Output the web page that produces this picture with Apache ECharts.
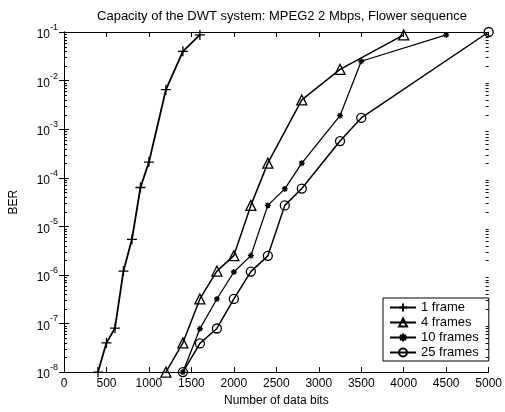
<!DOCTYPE html>
<html>
<head>
<meta charset="utf-8">
<script src="https://cdn.jsdelivr.net/npm/echarts@6/dist/echarts.min.js"></script>
<style>html,body{margin:0;padding:0;background:#fff}#c{width:505px;height:412px}</style>
</head>
<body>
<div id="c"></div>
<script>
// ---- data ----
var titleText = 'Capacity of the DWT system: MPEG2 2 Mbps, Flower sequence';
var seriesNames = ['1 frame', '4 frames', '10 frames', '25 frames'];

var x1 = [400, 500, 600, 700, 800, 900, 1000, 1200, 1400, 1600];
var y1 = [1e-8, 4e-8, 8e-8, 1.2e-6, 5.4e-6, 6.3e-5, 2.1e-4, 6.5e-3, 4e-2, 8.7e-2];

var x4 = [1200, 1400, 1600, 1800, 2000, 2200, 2400, 2800, 3250, 4000];
var y4 = [1e-8, 4e-8, 3.2e-7, 1.2e-6, 2.5e-6, 2.7e-5, 2e-4, 4e-3, 1.7e-2, 8.7e-2];

var x10 = [1400, 1600, 1800, 2000, 2200, 2400, 2600, 2800, 3250, 3500, 4500];
var y10 = [1e-8, 7.8e-8, 3.2e-7, 1.15e-6, 2.5e-6, 2.7e-5, 5.9e-5, 2e-4, 1.9e-3, 2.5e-2, 8.7e-2];

var x25 = [1400, 1600, 1800, 2000, 2200, 2400, 2600, 2800, 3250, 3500, 5000];
var y25 = [1e-8, 3.9e-8, 7.9e-8, 3.2e-7, 1.17e-6, 2.47e-6, 2.7e-5, 6e-5, 5.7e-4, 1.7e-3, 1e-1];

var xMin = 0, xMax = 5000, xStep = 500;
var yMinExp = -8, yMaxExp = -1;

// ---- build ----
function pairs(xs, ys) { return xs.map(function (x, i) { return [x, ys[i]]; }); }

var minorVals = [];
for (var e = yMinExp; e < yMaxExp; e++) {
  for (var m = 2; m <= 9; m++) minorVals.push(m * Math.pow(10, e));
}

var FONT = 'Liberation Sans, Arial, sans-serif';
var plusSym = 'path://M0,5L10,5M5,0L5,10';
var starSym = 'path://M5,0L5,10M0,5L10,5M1.5,1.5L8.5,8.5M8.5,1.5L1.5,8.5';

function lineSeries(name, data, symbol, size, lw) {
  return {
    type: 'line', name: name, data: data,
    symbol: symbol, symbolSize: size, showAllSymbol: true,
    lineStyle: { color: '#000', width: lw },
    itemStyle: { color: 'rgba(0,0,0,0)', borderColor: '#000', borderWidth: 1.3 },
    emphasis: { disabled: true }, silent: true, z: 3
  };
}

var chart = echarts.init(document.getElementById('c'), null, { renderer: 'canvas' });
chart.setOption({
  animation: false,
  backgroundColor: '#fff',
  title: {
    text: titleText, left: 277, top: 5, textAlign: 'center',
    textStyle: { fontFamily: FONT, fontSize: 13, fontWeight: 'normal', color: '#000' }
  },
  grid: { left: 61, top: 32, right: 9, bottom: 39 },
  legend: {
    data: seriesNames, orient: 'vertical', left: 383, top: 298,
    backgroundColor: '#fff', borderColor: '#000', borderWidth: 1,
    padding: [3, 10, 2, 6], itemWidth: 26, itemHeight: 10, itemGap: 2,
    textStyle: { fontFamily: FONT, fontSize: 13, color: '#000' },
    selectedMode: false
  },
  xAxis: [{
    type: 'value', min: xMin, max: xMax, interval: xStep,
    name: 'Number of data bits', nameLocation: 'middle', nameGap: 19,
    nameTextStyle: { fontFamily: FONT, fontSize: 12, color: '#000' },
    axisLine: { show: true, lineStyle: { color: '#000', width: 1 } },
    axisTick: { show: true, inside: true, length: 5, lineStyle: { color: '#000' } },
    axisLabel: { fontFamily: FONT, fontSize: 12, color: '#000', margin: 6,
      formatter: function (v) { return String(v); } },
    splitLine: { show: false }
  }, {
    type: 'value', min: xMin, max: xMax, interval: xStep, position: 'top',
    axisLine: { show: true, lineStyle: { color: '#000', width: 1 } },
    axisTick: { show: true, inside: true, length: 5, lineStyle: { color: '#000' } },
    axisLabel: { show: false }, splitLine: { show: false }
  }],
  yAxis: [{
    type: 'log', logBase: 10, min: Math.pow(10, yMinExp), max: Math.pow(10, yMaxExp), interval: 1,
    name: 'BER', nameLocation: 'middle', nameGap: 44, nameRotate: 90,
    nameTextStyle: { fontFamily: FONT, fontSize: 12, color: '#000' },
    axisLine: { show: true, lineStyle: { color: '#000', width: 1 } },
    axisTick: { show: true, inside: true, length: 5, lineStyle: { color: '#000' } },
    axisLabel: {
      margin: 6, color: '#000',
      formatter: function (v) {
        var ex = Math.round(Math.log10(v));
        return '{b|10}{s|' + ex + '}';
      },
      rich: {
        b: { fontFamily: FONT, fontSize: 12, color: '#000', verticalAlign: 'bottom', lineHeight: 18 },
        s: { fontFamily: FONT, fontSize: 9, color: '#000', verticalAlign: 'top', lineHeight: 18 }
      }
    },
    splitLine: { show: false }
  }, {
    type: 'log', logBase: 10, min: Math.pow(10, yMinExp), max: Math.pow(10, yMaxExp), interval: 1,
    position: 'right',
    axisLine: { show: true, lineStyle: { color: '#000', width: 1 } },
    axisTick: { show: true, inside: true, length: 5, lineStyle: { color: '#000' } },
    axisLabel: { show: false }, splitLine: { show: false }
  }],
  series: [
    lineSeries(seriesNames[0], pairs(x1, y1), plusSym, 10, 1.8),
    lineSeries(seriesNames[1], pairs(x4, y4), 'triangle', 10, 1.5),
    lineSeries(seriesNames[2], pairs(x10, y10), starSym, 6, 1.3),
    lineSeries(seriesNames[3], pairs(x25, y25), 'circle', 9, 1.5)
  ]
});

// minor log ticks (MATLAB style) placed through the chart's own y scale
var graphics = [];
minorVals.forEach(function (v) {
  var pl = chart.convertToPixel({ xAxisIndex: 0, yAxisIndex: 0 }, [xMin, v]);
  var pr = chart.convertToPixel({ xAxisIndex: 0, yAxisIndex: 0 }, [xMax, v]);
  var yy = Math.round(pl[1]) + 0.5;
  graphics.push({ type: 'line', silent: true, z: 10,
    shape: { x1: pl[0], y1: yy, x2: pl[0] + 3, y2: yy }, style: { stroke: '#000', lineWidth: 1 } });
  graphics.push({ type: 'line', silent: true, z: 10,
    shape: { x1: pr[0] - 3, y1: yy, x2: pr[0], y2: yy }, style: { stroke: '#000', lineWidth: 1 } });
});
chart.setOption({ graphic: graphics });
</script>
</body>
</html>
